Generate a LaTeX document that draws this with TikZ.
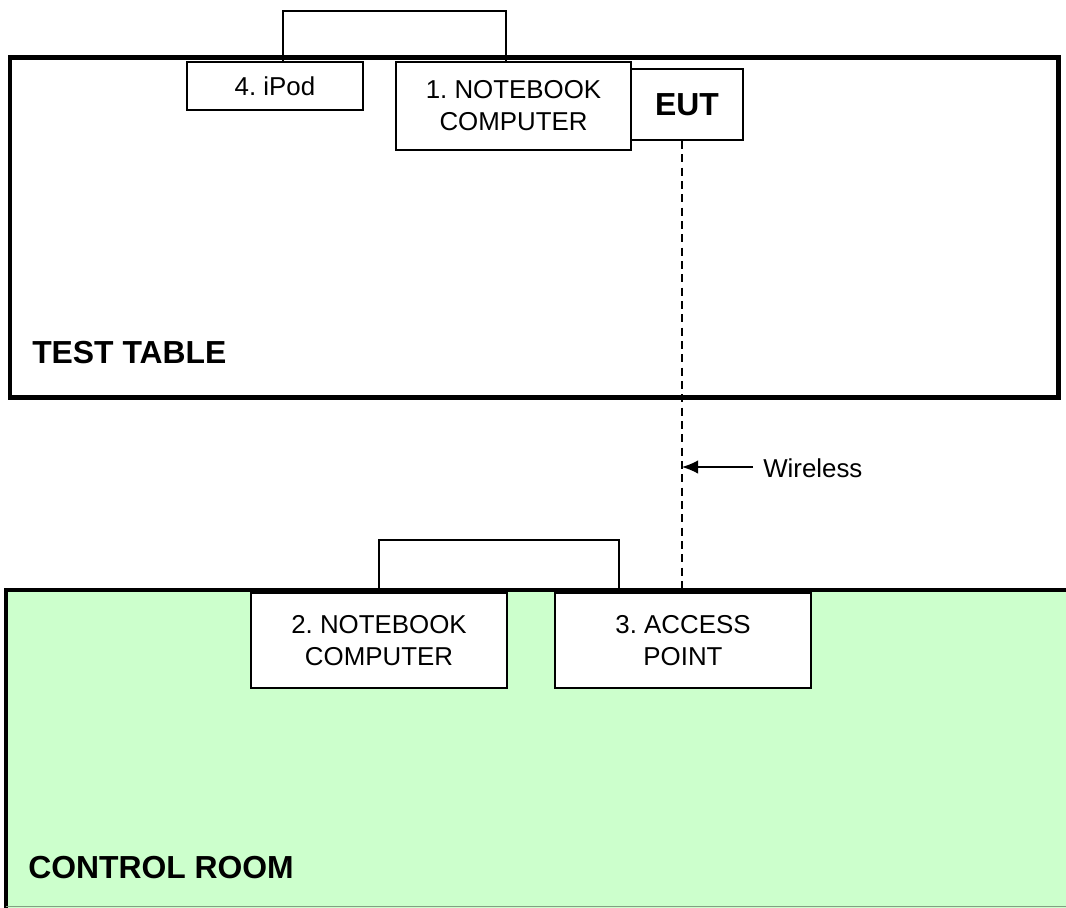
\documentclass[tikz,border=0pt]{standalone}
\usepackage{fontspec}
\setmainfont{Liberation Sans}
\usetikzlibrary{arrows.meta}
\frenchspacing
\begin{document}
\begin{tikzpicture}[x=0.75pt,y=-0.75pt,
  devbox/.style={draw=black,line width=1.5pt,fill=white,inner sep=0pt,align=center,
    font=\fontsize{19.4}{24}\selectfont},
  areaborder/.style={line width=3.6pt,draw=black},
  link/.style={draw=black,line width=1pt},
  radio/.style={draw=black,line width=1pt,dash pattern=on 6pt off 4pt},
  arealabel/.style={font=\bfseries\fontsize{23.9}{28}\selectfont,anchor=base west,inner sep=0pt}]
\useasboundingbox (0,0) rectangle (1066,907);
% control room
\fill[fill={rgb,255:red,204;green,255;blue,204}] (6,590) rectangle (1070,910);
\draw[areaborder] (1070,590) -- (6,590) -- (6,910);
\draw[line width=1pt,draw={rgb,255:red,130;green,160;blue,130}] (6,906.5) -- (1070,906.5);
% test table
\draw[areaborder] (10,57.5) rectangle (1058.5,397.5);
\node[arealabel] (tt) at (32,363) {TEST TABLE};
\node[arealabel] (cr) at (28,878) {CONTROL ROOM};
% devices on test table
\node[devbox,minimum width=132pt,minimum height=36pt,anchor=north west] (ipod) at (186,61) {4. iPod};
\node[devbox,minimum width=176.25pt,minimum height=66pt,anchor=north west] (nb1) at (395,61) {1. NOTEBOOK\\COMPUTER};
\node[devbox,minimum width=84pt,minimum height=53.25pt,anchor=north west,
  font=\bfseries\fontsize{23.9}{28}\selectfont] (eut) at (630,68) {EUT};
% devices in control room
\node[devbox,minimum width=192pt,minimum height=71.25pt,anchor=north west] (nb2) at (250,592) {2. NOTEBOOK\\COMPUTER};
\node[devbox,minimum width=192pt,minimum height=71.25pt,anchor=north west] (ap) at (554,592) {3. ACCESS\\POINT};
% cables
\draw[link] ([xshift=6pt]ipod.north) -- ++(0,-50) -| ([xshift=-5.6pt]nb1.north);
\draw[link] (nb2.north) -- ++(0,-52) -| ([xshift=-48pt]ap.north);
% wireless
\draw[radio] (eut.south -| 682,0) -- (682,590) coordinate (radioEnd);
\coordinate (tip) at (682,467);
\node[anchor=west,inner sep=0pt,font=\fontsize{19.4}{24}\selectfont] (wl) at (763,468) {Wireless};
\draw[line width=1pt,-{Latex[length=12pt,width=10pt]}] (753,467) -- (tip);
\end{tikzpicture}
\end{document}
